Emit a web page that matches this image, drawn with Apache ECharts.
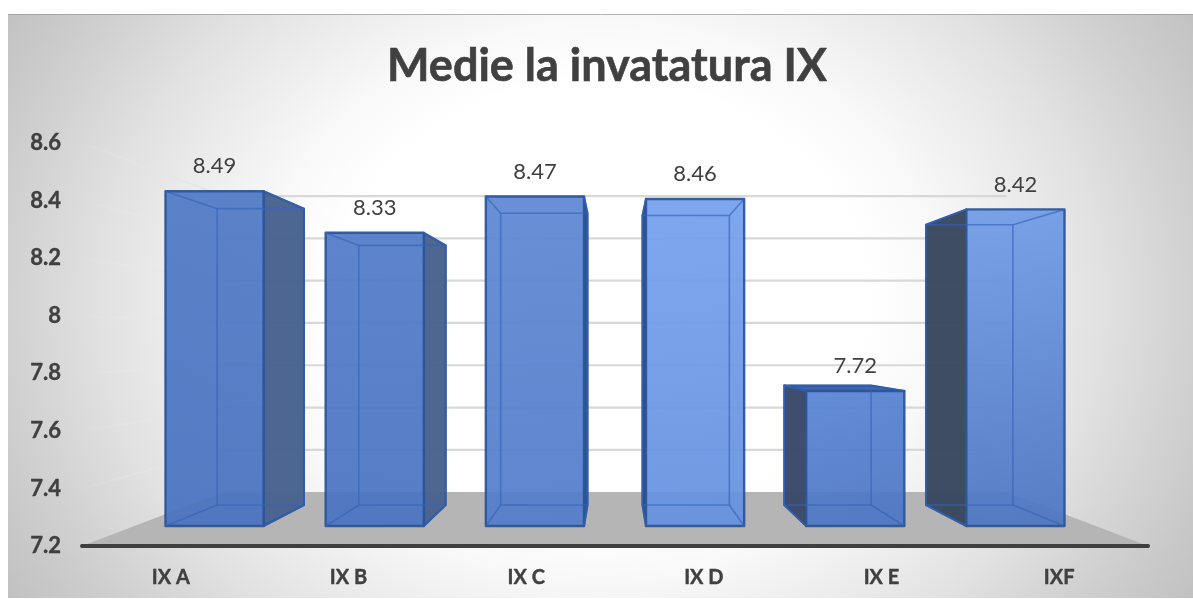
<!DOCTYPE html>
<html>
<head>
<meta charset="utf-8">
<title>Medie la invatatura IX</title>
<script src="https://cdn.jsdelivr.net/npm/echarts@6/dist/echarts.min.js"></script>
<style>
  html, body { margin: 0; padding: 0; background: #fff; }
  #chart { width: 1193px; height: 599px; }
</style>
</head>
<body>
<div id="chart"></div>
<script>
var categories = ['IX A', 'IX B', 'IX C', 'IX D', 'IX E', 'IXF'];
var values = [8.49, 8.33, 8.47, 8.46, 7.72, 8.42];
var yTicks = [7.2, 7.4, 7.6, 7.8, 8, 8.2, 8.4, 8.6];

// face shading differs per bar in the original (3d lighting)
var faceTop = ['#507ac6', '#517bc8', '#5e88d3', '#75a1ef', '#5884d5', '#709ce7'];
var faceBottom = ['#4972c0', '#4973c1', '#527cca', '#6591e0', '#4d76c4', '#4d76c2'];
var sideColor = ['#47618e', '#47618e', '#2f4f8c', '#2c4a85', '#39486a', '#38465f'];

var FONT = 'Lato';
var TEXT = '#404040';

// perspective: everything shrinks toward one point as it goes back
var VP_Y = 343;
var WALL_SCALE = 0.7345;
var BAR_FRONT = 0.9015;
var BAR_BACK = 0.798;
var BAR_WIDTH = 0.613;

function project(p, s, vpX) {
  return [vpX + (p[0] - vpX) * s, VP_Y + (p[1] - VP_Y) * s];
}

function renderWall(params, api) {
  var cs = params.coordSys;
  var vpX = cs.x + cs.width / 2;
  var py = api.coord([0, api.value(1)])[1];
  var left = [cs.x, py];
  var right = [cs.x + cs.width, py];
  var backL = project(left, WALL_SCALE, vpX);
  var backR = project(right, WALL_SCALE, vpX);
  var children = [];
  if (params.dataIndex === 0) {
    children.push({
      type: 'polygon',
      shape: { points: [left, right, backR, backL] },
      style: { fill: '#b5b5b5' }
    });
  } else {
    children.push({
      type: 'line',
      shape: { x1: backL[0], y1: backL[1], x2: backR[0], y2: backR[1] },
      style: { stroke: '#d8d8d8', lineWidth: 2.2, fill: null }
    });
    children.push({
      type: 'line',
      shape: { x1: left[0], y1: left[1], x2: backL[0], y2: backL[1] },
      style: {
        stroke: {
          type: 'linear', x: 0, y: 0, x2: 1, y2: 0,
          colorStops: [
            { offset: 0, color: 'rgba(235,235,235,0)' },
            { offset: 0.25, color: 'rgba(235,235,235,0.25)' },
            { offset: 1, color: 'rgba(222,222,222,0.8)' }
          ]
        },
        lineWidth: 2,
        fill: null
      }
    });
  }
  return { type: 'group', children: children };
}

function renderBar(params, api) {
  var cs = params.coordSys;
  var i = params.dataIndex;
  var vpX = cs.x + cs.width / 2;
  var top = api.coord([i, api.value(1)]);
  var base = api.coord([i, yTicks[0]]);
  var half = api.size([1, 0])[0] * BAR_WIDTH / 2;

  var corner = function (x, y, s) { return project([x, y], s, vpX); };
  var fTL = corner(top[0] - half, top[1], BAR_FRONT);
  var fTR = corner(top[0] + half, top[1], BAR_FRONT);
  var fBL = corner(top[0] - half, base[1], BAR_FRONT);
  var fBR = corner(top[0] + half, base[1], BAR_FRONT);
  var bTL = corner(top[0] - half, top[1], BAR_BACK);
  var bTR = corner(top[0] + half, top[1], BAR_BACK);
  var bBL = corner(top[0] - half, base[1], BAR_BACK);
  var bBR = corner(top[0] + half, base[1], BAR_BACK);

  var edge = '#2b5499';
  var inner = 'rgba(52,100,186,0.65)';
  var kids = [];

  // faces that stick out behind the front one
  if (bTR[0] > fTR[0]) {
    kids.push({ type: 'polygon', shape: { points: [fTR, bTR, bBR, fBR] },
      style: { fill: sideColor[i], opacity: 0.97, stroke: edge, lineWidth: 2, lineJoin: 'round' } });
  }
  if (bTL[0] < fTL[0]) {
    kids.push({ type: 'polygon', shape: { points: [fTL, bTL, bBL, fBL] },
      style: { fill: sideColor[i], opacity: 0.97, stroke: edge, lineWidth: 2, lineJoin: 'round' } });
  }
  if (bTL[1] < fTL[1]) {
    kids.push({ type: 'polygon', shape: { points: [fTL, bTL, bTR, fTR] },
      style: { fill: '#3f66ad', stroke: edge, lineWidth: 2, lineJoin: 'round' } });
  }

  kids.push({
    type: 'polygon',
    shape: { points: [fTL, fTR, fBR, fBL] },
    style: {
      fill: {
        type: 'linear', x: 0, y: 0, x2: 0.35, y2: 1,
        colorStops: [
          { offset: 0, color: faceTop[i] },
          { offset: 1, color: faceBottom[i] }
        ]
      },
      opacity: 0.93,
      stroke: edge,
      lineWidth: 2.4,
      lineJoin: 'round'
    }
  });

  // see-through edges of the box
  kids.push({ type: 'polygon', shape: { points: [bTL, bTR, bBR, bBL] },
    style: { fill: null, stroke: inner, lineWidth: 1.6 } });
  [[fTL, bTL], [fTR, bTR], [fBL, bBL], [fBR, bBR]].forEach(function (d) {
    kids.push({ type: 'line', shape: { x1: d[0][0], y1: d[0][1], x2: d[1][0], y2: d[1][1] },
      style: { stroke: inner, lineWidth: 1.6, fill: null } });
  });

  kids.push({
    type: 'text',
    style: {
      text: String(values[i]),
      x: (fTL[0] + fTR[0]) / 2,
      y: fTL[1] - 25,
      align: 'center',
      verticalAlign: 'middle',
      font: '22px ' + FONT,
      fill: TEXT
    }
  });

  return { type: 'group', children: kids };
}

var chart = echarts.init(document.getElementById('chart'), null, { renderer: 'canvas' });

chart.setOption({
  animation: false,
  graphic: [
    {
      // tall rect squashed by scaleY so the radial fill comes out as an ellipse
      type: 'rect',
      z: -10,
      silent: true,
      x: 8,
      y: 14,
      originY: 0,
      scaleY: 0.8167,
      shape: { x: 0, y: 0, width: 1185, height: 715 },
      style: {
        fill: {
          type: 'radial', x: 0.5, y: 0.49, r: 1.007,
          colorStops: [
            { offset: 0, color: '#ffffff' },
            { offset: 0.37, color: '#ffffff' },
            { offset: 0.48, color: '#f8f8f8' },
            { offset: 0.69, color: '#e2e2e2' },
            { offset: 0.83, color: '#d0d0d0' },
            { offset: 1, color: '#bdbdbd' }
          ]
        }
      }
    },
    {
      type: 'line',
      z: -9,
      silent: true,
      shape: { x1: 8, y1: 14.5, x2: 1193, y2: 14.5 },
      style: { stroke: 'rgba(150,150,150,0.7)', lineWidth: 1 }
    }
  ],
  title: {
    text: 'Medie la invatatura IX',
    left: 602,
    top: 39,
    textAlign: 'center',
    textStyle: {
      fontFamily: FONT, fontWeight: 'bold', fontSize: 45, color: TEXT,
      textBorderColor: TEXT, textBorderWidth: 0.6
    }
  },
  grid: { left: 82, right: 45, top: 143, bottom: 53 },
  xAxis: {
    type: 'category',
    data: categories,
    axisTick: { show: false },
    axisLine: { lineStyle: { color: '#3f3f3f', width: 4, cap: 'round' } },
    axisLabel: {
      margin: 22, fontFamily: FONT, fontWeight: 'bold', fontSize: 20, color: TEXT,
      textBorderColor: TEXT, textBorderWidth: 0.4
    },
    z: 5
  },
  yAxis: {
    type: 'value',
    min: 7.2,
    max: 8.6,
    interval: 0.2,
    axisLine: { show: false },
    axisTick: { show: false },
    splitLine: { show: false },
    axisLabel: {
      margin: 21, padding: [2, 0, 0, 0], fontFamily: FONT, fontWeight: 'bold', fontSize: 22, color: TEXT,
      textBorderColor: TEXT, textBorderWidth: 0.4
    }
  },
  series: [
    {
      type: 'custom',
      name: 'walls',
      silent: true,
      renderItem: renderWall,
      data: yTicks.map(function (t) { return [0, t]; }),
      encode: { x: 0, y: 1 },
      z: 1
    },
    {
      type: 'custom',
      name: 'Medie',
      renderItem: renderBar,
      data: values.map(function (v, i) { return [i, v]; }),
      encode: { x: 0, y: 1 },
      z: 2
    }
  ]
});

window.addEventListener('resize', function () {
  chart.resize();
});
</script>
</body>
</html>
